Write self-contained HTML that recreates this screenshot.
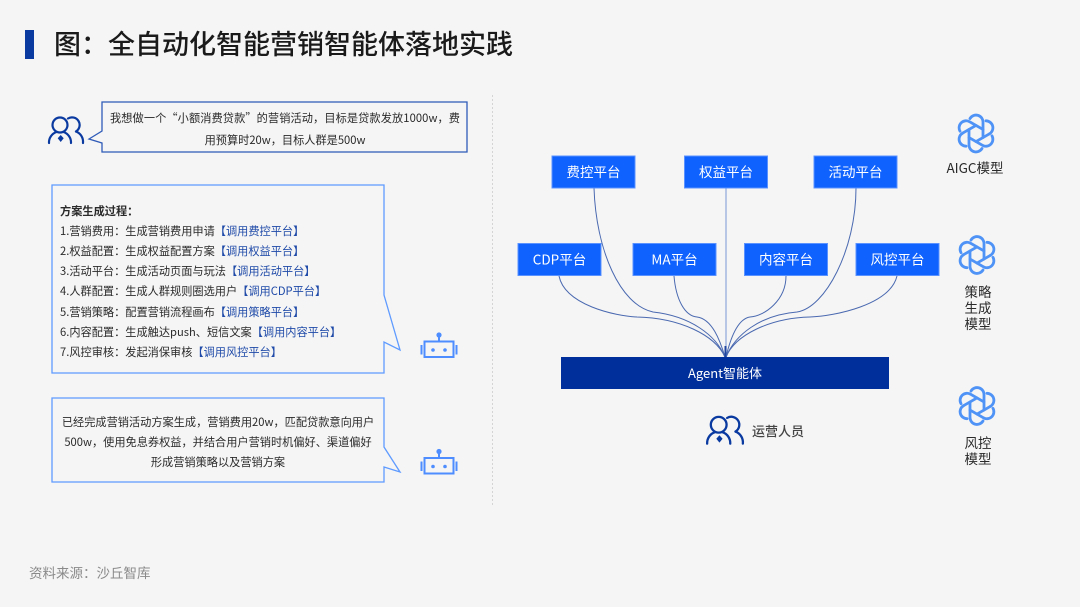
<!DOCTYPE html>
<html lang="zh"><head><meta charset="utf-8"><style>
html,body{margin:0;padding:0;background:#f5f5f5}
svg{display:block}
text{font-family:"Noto Sans CJK SC","Liberation Sans",sans-serif}
.t{font-size:11.2px;fill:#2a2a2a}
.l{fill:#1f4aa8}
.w{font-size:13.5px;fill:#fff;text-anchor:middle}
.b{fill:#0f62fe;stroke:#5a92ff;stroke-width:1}
.c{fill:none;stroke:#4a69b0;stroke-width:1}
.g{font-size:13.5px;fill:#2a2a2a;text-anchor:middle}
</style></head><body>
<svg width="1080" height="607" viewBox="0 0 1080 607" xmlns="http://www.w3.org/2000/svg">
<defs>
<g id="p" fill="none" stroke="#0a3aa0" stroke-width="2.2" stroke-linecap="round">
<circle cx="-6" cy="-5" r="7.5"/>
<path d="M2 -11.500A7.500 7.500 0 0 1 10 1.500"/>
<path d="M-17 13A11 11 0 0 1 -9.500 2M-2.500 2A11 11 0 0 1 5 13M10 1.500A11 11 0 0 1 17 13"/>
<path d="M-5.300 5l3 3.300-3 3.700-3-3.700z" fill="#0a3aa0" stroke="none"/>
</g>
<g id="r" fill="none" stroke="#4d8dff" stroke-width="2">
<rect x="-14.500" y="-8.500" width="29" height="15.500"/>
<path d="M0-8.500v-6M-17.500-5v9.500M17.500-5v9.500"/>
<circle cx="0" cy="-15" r="2.600" fill="#4d8dff" stroke="none"/>
<circle cx="-6" cy="0" r="1.800" fill="#4d8dff" stroke="none"/>
<circle cx="6" cy="0" r="1.800" fill="#4d8dff" stroke="none"/>
</g>
<path id="k" d="M7 4V-11A7 7 0 0 0 -6 -15"/>
<g id="o" fill="none" stroke="#4f93f7" stroke-width="2.800" stroke-linecap="round">
<use href="#k"/>
<use href="#k" transform="rotate(60)"/>
<use href="#k" transform="rotate(120)"/>
<use href="#k" transform="rotate(180)"/>
<use href="#k" transform="rotate(240)"/>
<use href="#k" transform="rotate(300)"/>
</g>
</defs>
<rect width="1080" height="607" fill="#f5f5f5"/>
<rect x="25" y="30" width="9" height="29" fill="#0a3aa0"/>
<text x="54" y="54" font-size="27" font-weight="500" fill="#1a1a1a">图&#xFF1A;全自动化智能营销智能体落地实践</text>
<line x1="492.500" y1="95" x2="492.500" y2="506" stroke="#d4d4d4" stroke-dasharray="2 2"/>

<use href="#p" x="66" y="130"/>
<path d="M102 102H467V152H102V143L89 139L102 131Z" fill="#f5f5f5" stroke="#2f5bb8" stroke-width="1.300"/>
<text class="t" x="110" y="122" textLength="350">我想做一个“小额消费贷款”的营销活动&#xFF0C;目标是贷款发放1000w&#xFF0C;费</text>
<text class="t" x="285" y="144" text-anchor="middle">用预算时20w&#xFF0C;目标人群是500w</text>

<path d="M52 185H384V295L400 350L384 342V373H52Z" fill="#f5f5f5" stroke="#5f9bff" stroke-width="1.300"/>
<text class="t" x="60" y="215" font-weight="700" fill="#222">方案生成过程&#xFF1A;</text>
<text class="t" x="60" y="235">1.营销费用&#xFF1A;生成营销费用申请<tspan class="l">【调用费控平台】</tspan></text>
<text class="t" x="60" y="255">2.权益配置&#xFF1A;生成权益配置方案<tspan class="l">【调用权益平台】</tspan></text>
<text class="t" x="60" y="275">3.活动平台&#xFF1A;生成活动页面与玩法<tspan class="l">【调用活动平台】</tspan></text>
<text class="t" x="60" y="295">4.人群配置&#xFF1A;生成人群规则圈选用户<tspan class="l">【调用CDP平台】</tspan></text>
<text class="t" x="60" y="316">5.营销策略&#xFF1A;配置营销流程画布<tspan class="l">【调用策略平台】</tspan></text>
<text class="t" x="60" y="336">6.内容配置&#xFF1A;生成触达push、短信文案<tspan class="l">【调用内容平台】</tspan></text>
<text class="t" x="60" y="356">7.风控审核&#xFF1A;发起消保审核<tspan class="l">【调用风控平台】</tspan></text>
<use href="#r" x="439" y="350"/>

<path d="M52 398H384V447L400 472L384 467V482H52Z" fill="#f5f5f5" stroke="#5f9bff" stroke-width="1.300"/>
<text class="t" x="218" y="426" text-anchor="middle">已经完成营销活动方案生成&#xFF0C;营销费用20w&#xFF0C;匹配贷款意向用户</text>
<text class="t" x="218" y="446" text-anchor="middle">500w&#xFF0C;使用免息券权益&#xFF0C;并结合用户营销时机偏好、渠道偏好</text>
<text class="t" x="218" y="466" text-anchor="middle">形成营销策略以及营销方案</text>
<use href="#r" x="439" y="466.500"/>

<text x="29" y="578" font-size="13.5" fill="#8a8a8a">资料来源&#xFF1A;沙丘智库</text>

<path class="c" d="M594 188C596 250 620 305 653 312C690 316 716 335 725 357"/>
<path class="c" d="M559 276C565 305 615 316 637 317C680 318 715 335 725 357"/>
<path class="c" d="M674 276C676 300 685 316 697 317C712 319 720 340 725 357"/>
<path class="c" d="M786 276C786 300 765 316 750 317C737 319 730 340 726 357"/>
<path class="c" d="M856 188C856 250 825 308 797 312C760 315 735 335 726 357"/>
<path class="c" d="M897 276C890 305 835 316 810 317C770 318 735 335 726 357"/>
<path d="M726 188V357" fill="none" stroke="#8ea6d8" stroke-width="1.200"/>
<path d="M725.500 346V357" fill="none" stroke="#1f45a0" stroke-width="2"/>

<rect class="b" x="552" y="156" width="83" height="32"/><text class="w" x="593.500" y="177">费控平台</text>
<rect class="b" x="684.500" y="156" width="83" height="32"/><text class="w" x="726" y="177">权益平台</text>
<rect class="b" x="814" y="156" width="83" height="32"/><text class="w" x="855.500" y="177">活动平台</text>
<rect class="b" x="518" y="243.500" width="83" height="32"/><text class="w" x="559.500" y="264.500">CDP平台</text>
<rect class="b" x="633" y="243.500" width="83" height="32"/><text class="w" x="674.500" y="264.500">MA平台</text>
<rect class="b" x="744.500" y="243.500" width="83" height="32"/><text class="w" x="786" y="264.500">内容平台</text>
<rect class="b" x="856" y="243.500" width="83" height="32"/><text class="w" x="897.500" y="264.500">风控平台</text>
<rect x="561" y="357" width="328" height="32" fill="#002f9b"/>
<text x="725" y="378" font-size="13" fill="#fff" text-anchor="middle">Agent智能体</text>

<use href="#p" transform="translate(725 430) scale(1.050)"/>
<text x="752" y="436" font-size="13" font-weight="500" fill="#444">运营人员</text>

<use href="#o" x="976" y="133.500"/>
<text class="g" x="975" y="173">AIGC模型</text>
<use href="#o" x="977" y="255"/>
<text class="g" x="978" y="297">策略</text>
<text class="g" x="978" y="313">生成</text>
<text class="g" x="978" y="329">模型</text>
<use href="#o" x="977" y="406"/>
<text class="g" x="978" y="448">风控</text>
<text class="g" x="978" y="464">模型</text>
</svg>
</body></html>
